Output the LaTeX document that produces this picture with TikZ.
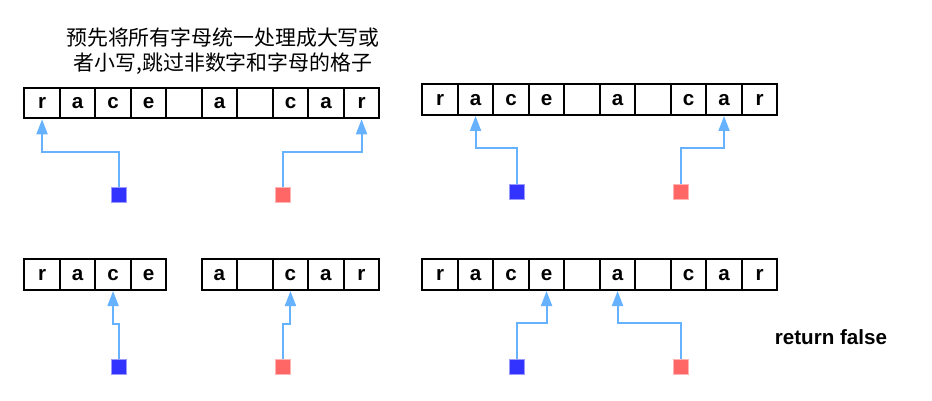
\documentclass[tikz,border=0pt]{standalone}
\usepackage{fontspec}
\setmainfont{Liberation Sans}
\newfontfamily\cjk{Noto Sans CJK SC}
\usetikzlibrary{arrows.meta,calc}
\definecolor{ptrblue}{HTML}{66B2FF}
\definecolor{sqblue}{HTML}{3333FF}
\definecolor{sqred}{HTML}{FF6666}
\definecolor{sqblueb}{HTML}{9999FF}
\definecolor{sqredb}{HTML}{FFB3B3}
\tikzset{
  cell/.style={draw=black,line width=2pt,minimum width=35.5pt,minimum height=30.6pt,inner sep=0pt,
    font=\fontsize{20.6}{22}\selectfont\bfseries,text height=11pt,text depth=0pt},
  bsq/.style={fill=sqblue,draw=sqblueb,line width=0.8pt,minimum size=15.5pt,inner sep=0pt},
  rsq/.style={fill=sqred,draw=sqredb,line width=0.8pt,minimum size=15.5pt,inner sep=0pt},
  ptr/.style={draw=ptrblue,line width=2pt,-{Triangle[width=11pt,length=15pt]}},
}
\newcommand{\mkarray}[4]{% prefix, x0, ycenter, letters
  \foreach \ch [count=\i] in {#4} {
    \node[cell] (#1\i) at ({#2+35.5*(\i-0.5)},#3) {\ch};
  }
}
\begin{document}
\begin{tikzpicture}[x=1pt,y=-1pt]
\useasboundingbox (0,0) rectangle (932,401);
\node[align=center,font=\cjk\fontsize{20.9}{24.5}\selectfont] (title) at (223,51)
  {预先将所有字母统一处理成大写或\\者小写,跳过非数字和字母的格子};
\mkarray{A}{24.3}{103}{r,a,c,e,{},a,{},c,a,r}
\mkarray{B}{422.3}{99.7}{r,a,c,e,{},a,{},c,a,r}
\mkarray{C}{24.3}{274.7}{r,a,c,e}
\mkarray{D}{201.7}{274.7}{a,{},c,a,r}
\mkarray{E}{422.3}{274.7}{r,a,c,e,{},a,{},c,a,r}
\node[font=\fontsize{20.6}{22}\selectfont\bfseries] (ret) at (831,337) {return false};
% squares
\node[bsq] (bA) at (118.7,194.7) {};
\node[rsq] (rA) at (283,194.7) {};
\node[bsq] (bB) at (517,191.7) {};
\node[rsq] (rB) at (681,191.7) {};
\node[bsq] (bC) at (118.7,366.7) {};
\node[rsq] (rC) at (283,366.7) {};
\node[bsq] (bE) at (517,366.7) {};
\node[rsq] (rE) at (681,366.7) {};
% bend levels
\coordinate (kA) at (0,151.7);
\coordinate (kB) at (0,147.7);
\coordinate (kC) at (0,324);
\coordinate (kE) at (0,322.7);
\draw[ptr] (bA.north) -- (bA.north |- kA) -| (A1.south);
\draw[ptr] (rA.north) -- (rA.north |- kA) -| (A10.south);
\draw[ptr] (bB.north) -- (bB.north |- kB) -| (B2.south);
\draw[ptr] (rB.north) -- (rB.north |- kB) -| (B9.south);
\draw[ptr] (bC.north) -- (bC.north |- kC) -| (C3.south);
\draw[ptr] (rC.north) -- (rC.north |- kC) -| (D3.south);
\draw[ptr] (bE.north) -- (bE.north |- kE) -| (E4.south);
\draw[ptr] (rE.north) -- (rE.north |- kE) -| (E6.south);
\end{tikzpicture}
\end{document}
